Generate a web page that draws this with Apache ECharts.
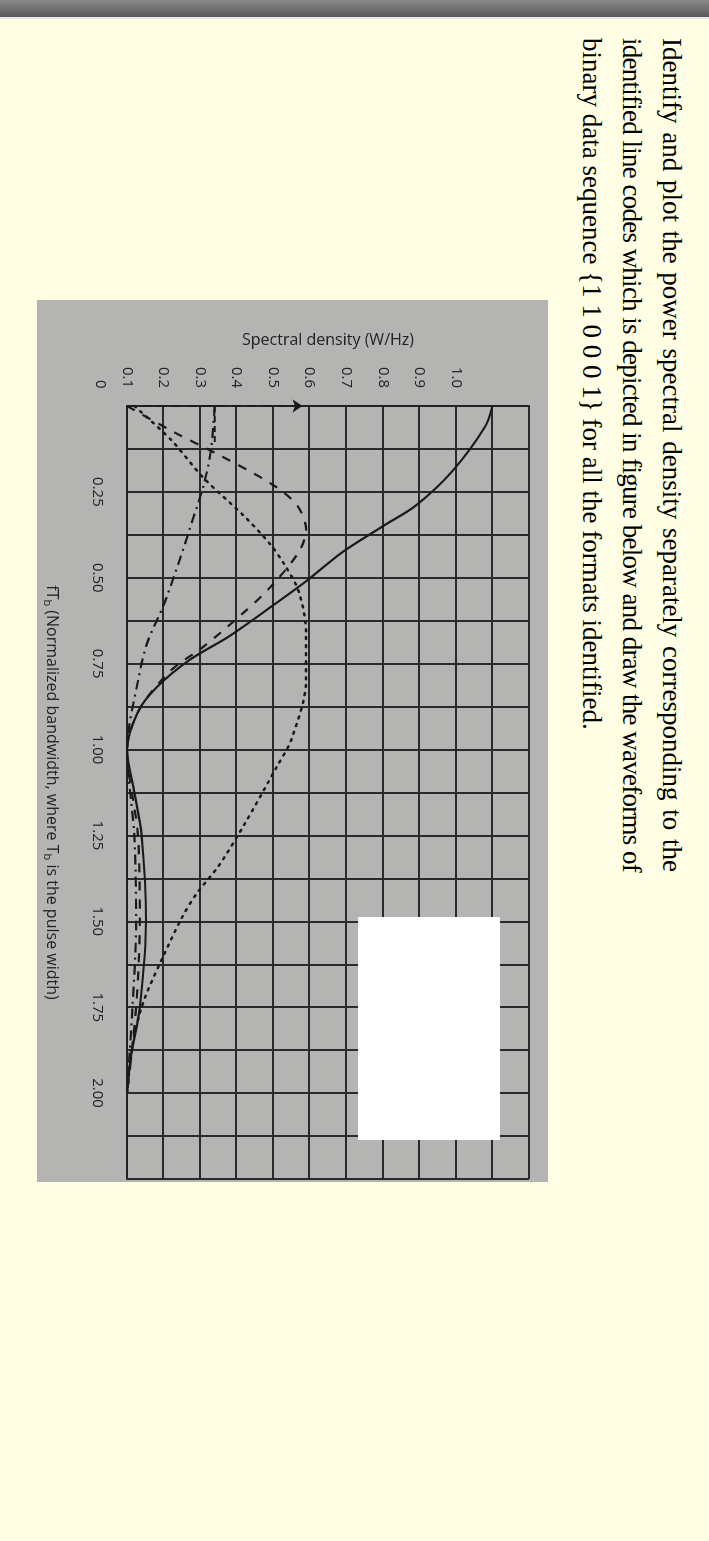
<!DOCTYPE html>
<html><head><meta charset="utf-8">
<script src="https://cdn.jsdelivr.net/npm/echarts@6/dist/echarts.min.js"></script>
<style>
html,body{margin:0;padding:0;width:709px;height:1541px;background:#fffde4;overflow:hidden;}
#bar{position:absolute;left:0;top:0;width:709px;height:17px;background:linear-gradient(#8a8a8a,#5a5a5a);border-bottom:2px solid #e8e8e8;}
#txt{position:absolute;left:692px;top:38px;width:834px;transform-origin:0 0;transform:rotate(90deg);
 font-family:"Liberation Serif","DejaVu Serif",serif;font-size:27px;line-height:40px;color:#000;}
#txt div{text-align:justify;text-align-last:justify;white-space:nowrap;}
#txt div.l2{letter-spacing:-0.75px;}
#txt div.last{text-align-last:left;}
#chart{position:absolute;left:548px;top:300px;width:882px;height:511px;transform-origin:0 0;transform:rotate(90deg);background:#b4b4b2;}
</style></head><body>
<div id="bar"></div>
<div id="txt">
<div>Identify and plot the power spectral density separately corresponding to the</div>
<div class="l2">identified line codes which is depicted in figure below and draw the waveforms of</div>
<div class="last">binary data sequence {1 1 0 0 0 1} for all the formats identified.</div>
</div>
<div id="chart"></div>
<script>
const solidData = [[0,1.0],[0.06,0.98],[0.19,0.89],[0.29,0.79],[0.35,0.70],[0.425,0.59],[0.51,0.49],[0.58,0.40],[0.67,0.28],[0.74,0.17],[0.82,0.08],[0.89,0.03],[1.0,0],[1.125,0.02],[1.25,0.04],[1.5,0.052],[1.75,0.035],[1.9,0.01],[2.0,0]];
const dashedData = [[0,0],[0.077,0.13],[0.147,0.26],[0.23,0.40],[0.29,0.466],[0.36,0.49],[0.425,0.47],[0.53,0.39],[0.61,0.31],[0.70,0.21],[0.77,0.12],[0.88,0.036],[1.0,0],[1.25,0.03],[1.5,0.035],[1.75,0.025],[2.0,0]];
const dottedData = [[0,0.02],[0.098,0.12],[0.21,0.21],[0.32,0.32],[0.40,0.39],[0.46,0.43],[0.54,0.47],[0.66,0.49],[0.80,0.49],[0.97,0.45],[1.05,0.41],[1.22,0.32],[1.34,0.25],[1.42,0.19],[1.49,0.15],[1.60,0.10],[1.72,0.05],[1.83,0.02],[2.0,0]];
const dashDotData = [[0,0.24],[0.127,0.23],[0.23,0.21],[0.33,0.18],[0.445,0.145],[0.58,0.10],[0.69,0.055],[0.80,0.03],[1.0,0],[1.25,0.02],[1.5,0.025],[1.75,0.015],[2.0,0]];
const impulseTop = 0.48;
const dashDotTick = [[0,0.24],[0.11,0.24]];
const xTicks = [0.25,0.50,0.75,1.00,1.25,1.50,1.75,2.00];
const yLabels = ['0.1','0.2','0.3','0.4','0.5','0.6','0.7','0.8','0.9','1.0'];

const chart = echarts.init(document.getElementById('chart'));
const line = '#1a1a1a';
function s(data, type, w, extra){return Object.assign({type:'line',data,showSymbol:false,smooth:0.3,lineStyle:{color:line,width:w,type:type},silent:true,animation:false},extra||{});}
chart.setOption({
  animation:false,
  grid:{left:106,right:0,top:19,bottom:90},
  xAxis:{type:'value',min:0,max:2.25,interval:0.125,
    name:'{n|fT}{s|b}{n| (Normalized bandwidth, where T}{s|b}{n| is the pulse width)}',
    nameLocation:'middle',nameGap:66,
    nameTextStyle:{rich:{n:{fontFamily:'Open Sans',fontSize:16,fontWeight:500,color:'#222'},s:{fontFamily:'Open Sans',fontSize:11,color:'#222',padding:[8,0,0,0]}}},
    axisLine:{lineStyle:{color:'#222',width:2}},axisTick:{show:false},
    axisLabel:{fontFamily:'Open Sans',fontSize:15,color:'#222',margin:22,
      formatter:v=>{const i=xTicks.findIndex(t=>Math.abs(t-v)<1e-6);return i>=0?xTicks[i].toFixed(2):'';}},
    splitLine:{show:true,lineStyle:{color:'#2a2a2a',width:2}}},
  yAxis:{type:'value',min:0,max:1.1,interval:0.1,
    name:'Spectral density (W/Hz)',nameLocation:'middle',nameGap:58,
    nameTextStyle:{fontFamily:'Open Sans',fontSize:16,fontWeight:500,color:'#222'},
    axisLine:{show:true,lineStyle:{color:'#222',width:2}},axisTick:{show:false},
    axisLabel:{fontFamily:'Open Sans',fontSize:15,color:'#222',margin:18,
      formatter:v=>{const i=Math.round(v*10);return i<yLabels.length?yLabels[i]:'';}},
    splitLine:{show:true,lineStyle:{color:'#2a2a2a',width:2}}},
  graphic:[
    {type:'text',left:80,top:440,style:{text:'0',font:'15px "Open Sans"',fill:'#222'}},
    {type:'rect',z:100,shape:{x:617,y:48,width:223,height:142},style:{fill:'#ffffff'}}
  ],
  series:[
    s(solidData,'solid',2.2),
    s(dashedData,[9,9],2.2,{markLine:{silent:true,symbol:['none','arrow'],symbolSize:10,label:{show:false},
      lineStyle:{color:line,width:2,type:[9,6]},data:[[{coord:[0,0]},{coord:[0,impulseTop]}]]}}),
    s(dottedData,[2,6],2.5,{lineStyle:{color:line,width:2.5,type:[2,6],cap:'round'}}),
    s(dashDotData,[10,5,2,5],2.2),
    s(dashDotTick,[6,4],2,{smooth:false})
  ]
});
</script>
</body></html>
